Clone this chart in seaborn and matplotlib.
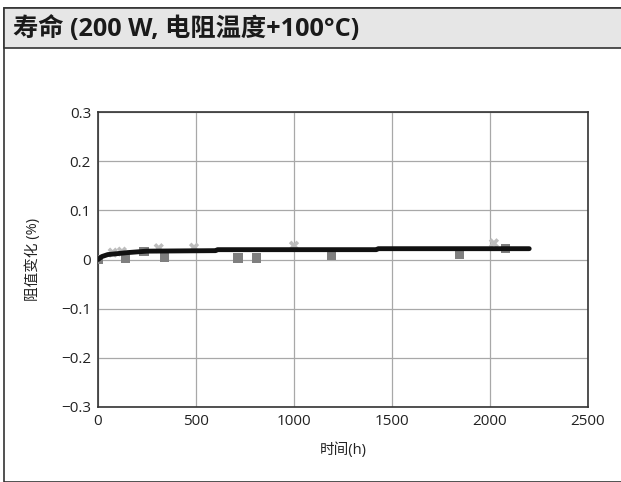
import numpy as np
import pandas as pd
import seaborn as sns
import matplotlib.pyplot as plt
from matplotlib.patches import Rectangle
from matplotlib.ticker import MultipleLocator, FuncFormatter

# fitted trend line
line_t = [0, 20, 50, 100, 150, 250, 600, 610, 1420, 1430, 2200]
line_v = [0.0, 0.006, 0.010, 0.012, 0.014, 0.017, 0.018, 0.020, 0.020, 0.022, 0.022]

# measured samples (squares)
sq_t = [0, 140, 235, 340, 715, 810, 1190, 1845, 2080]
sq_v = [0.0, 0.002, 0.016, 0.004, 0.003, 0.003, 0.009, 0.010, 0.022]

# measured samples (crosses)
x_t = [75, 122, 310, 490, 1000, 2020]
x_v = [0.014, 0.016, 0.023, 0.024, 0.028, 0.033]

title = "寿命 (200 W, 电阻温度+100°C)"

sns.set_theme(style="white")
plt.rcParams['font.family'] = ['Open Sans', 'Noto Sans CJK SC', 'DejaVu Sans']
plt.rcParams['axes.unicode_minus'] = True

fig = plt.figure(figsize=(6.21, 4.82), dpi=100)

# outer frame and header band
fig.patches.append(Rectangle((4 / 621, 0), 1.0, 1 - 8 / 482, transform=fig.transFigure,
                             facecolor='none', edgecolor='#333333', linewidth=1.2))
fig.patches.append(Rectangle((4 / 621, 1 - 48 / 482), 1.0, 40 / 482, transform=fig.transFigure,
                             facecolor='#e6e6e6', edgecolor='#333333', linewidth=1.2))
fig.text(13 / 621, 1 - 29 / 482, title, fontsize=18.2, fontweight='bold', va='center',
         ha='left', color='#1a1a1a')

ax = fig.add_axes([98 / 621, 75 / 482, 490 / 621, 295 / 482])
ax.set_zorder(2)

df_line = pd.DataFrame({'t': line_t, 'v': line_v})
df_sq = pd.DataFrame({'t': sq_t, 'v': sq_v})
df_x = pd.DataFrame({'t': x_t, 'v': x_v})

sns.scatterplot(data=df_x, x='t', y='v', marker='X', s=55, color='#bdbdbd',
                edgecolor='none', ax=ax, zorder=3)
sns.scatterplot(data=df_sq, x='t', y='v', marker='s', s=45, color='#7f7f7f',
                edgecolor='none', ax=ax, zorder=3)
sns.lineplot(data=df_line, x='t', y='v', color='#111111', linewidth=3.5, ax=ax, zorder=4)

ax.set_xlim(0, 2500)
ax.set_ylim(-0.3, 0.3)
ax.xaxis.set_major_locator(MultipleLocator(500))
ax.xaxis.set_minor_locator(MultipleLocator(100))
ax.yaxis.set_major_locator(MultipleLocator(0.1))
ax.yaxis.set_minor_locator(MultipleLocator(0.05))
ax.yaxis.set_major_formatter(FuncFormatter(lambda v, p: '{:g}'.format(round(v, 2)).replace('-', '\u2212')))
ax.grid(True, which='major', color='#a8a8a8', linewidth=0.9)
ax.tick_params(which='both', direction='in', color='#222222', labelsize=11,
               labelcolor='#222222', pad=5)
ax.tick_params(which='major', length=3, width=1.2)
ax.tick_params(which='minor', length=3, width=1.2)
for s in ax.spines.values():
    s.set_color('#333333')
    s.set_linewidth(1.2)

ax.set_xlabel('时间(h)', fontsize=10.5, color='#222222', labelpad=10)
ax.set_ylabel('阻值变化 (%)', fontsize=10.5, color='#222222', labelpad=14)

fig.savefig('out.png', dpi=100)
